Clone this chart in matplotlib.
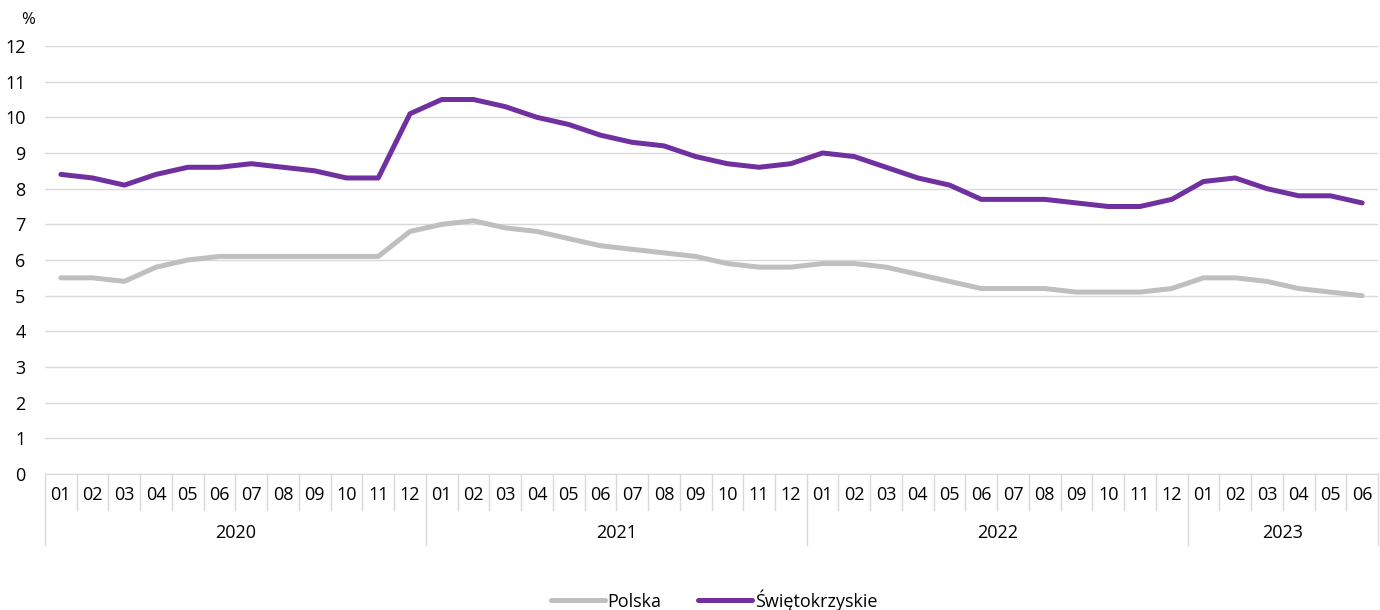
import matplotlib.pyplot as plt
from matplotlib import transforms
import numpy as np

plt.rcParams['font.family'] = ['Open Sans', 'DejaVu Sans']

years = ["2020", "2021", "2022", "2023"]
months_per_year = [12, 12, 12, 6]
month_labels = [f"{m:02d}" for n in months_per_year for m in range(1, n + 1)]

polska = [5.5, 5.5, 5.4, 5.8, 6.0, 6.1, 6.1, 6.1, 6.1, 6.1, 6.1, 6.8,
          7.0, 7.1, 6.9, 6.8, 6.6, 6.4, 6.3, 6.2, 6.1, 5.9, 5.8, 5.8,
          5.9, 5.9, 5.8, 5.6, 5.4, 5.2, 5.2, 5.2, 5.1, 5.1, 5.1, 5.2,
          5.5, 5.5, 5.4, 5.2, 5.1, 5.0]
swietokrzyskie = [8.4, 8.3, 8.1, 8.4, 8.6, 8.6, 8.7, 8.6, 8.5, 8.3, 8.3, 10.1,
                  10.5, 10.5, 10.3, 10.0, 9.8, 9.5, 9.3, 9.2, 8.9, 8.7, 8.6, 8.7,
                  9.0, 8.9, 8.6, 8.3, 8.1, 7.7, 7.7, 7.7, 7.6, 7.5, 7.5, 7.7,
                  8.2, 8.3, 8.0, 7.8, 7.8, 7.6]

fig = plt.figure(figsize=(13.8, 6.1), dpi=100)
ax = fig.add_axes([45 / 1380, (610 - 474) / 610, 1333 / 1380, 428 / 610])

x = np.arange(len(month_labels))
ax.plot(x, polska, color="#bfbfbf", lw=3.6, label="Polska", solid_capstyle="round")
ax.plot(x, swietokrzyskie, color="#7030a0", lw=3.6, label="Świętokrzyskie", solid_capstyle="round")

ax.set_xlim(-0.5, len(x) - 0.5)
ax.set_ylim(0, 12)
ax.set_yticks(range(0, 13))
ax.yaxis.grid(True, color="#d9d9d9", lw=1)
ax.set_axisbelow(True)
for s in ["top", "right", "left"]:
    ax.spines[s].set_visible(False)
ax.spines["bottom"].set_color("#d9d9d9")
ax.tick_params(axis="y", length=0, labelsize=13, pad=14, colors="#000000")
ax.set_xticks([])

# category axis: months and years
trans = transforms.blended_transform_factory(ax.transData, ax.transAxes)
for i, lab in enumerate(month_labels):
    ax.text(i, -0.049, lab, transform=trans, ha="center", va="center", fontsize=13)
starts = np.cumsum([0] + months_per_year)
for i in range(len(x) + 1):
    depth = -0.166 if i in starts else -0.084
    ax.plot([i - 0.5, i - 0.5], [0, depth], transform=trans, color="#d9d9d9",
            lw=1, clip_on=False)
for y, a, b in zip(years, starts[:-1], starts[1:]):
    ax.text((a + b - 1) / 2, -0.138, y, transform=trans, ha="center", va="center", fontsize=13)

fig.text(28 / 1380, 1 - 20 / 610, "%", ha="center", va="center", fontsize=12)

fig.legend(loc="center", bbox_to_anchor=(714 / 1380, 1 - 600 / 610), ncol=2, frameon=False,
           fontsize=13, handlelength=3.0, handletextpad=0.15, columnspacing=2.0)

fig.savefig("out.png", dpi=100)
